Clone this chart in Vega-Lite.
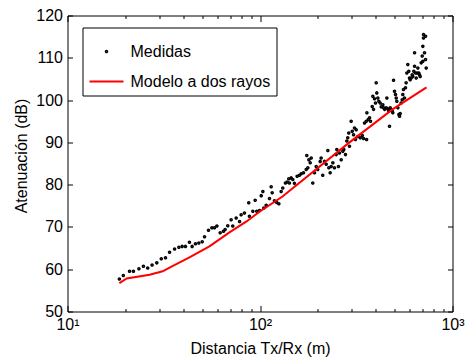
{
  "$schema": "https://vega.github.io/schema/vega-lite/v6.json",
  "width": 385,
  "height": 296,
  "autosize": {"type": "none"},
  "padding": {"left": 67.5, "top": 15.5, "right": 12.5, "bottom": 48.5},
  "background": "white",
  "config": {
    "font": "Liberation Sans",
    "view": {"stroke": "black", "strokeWidth": 1},
    "axis": {
      "labelFont": "Liberation Sans", "labelFontSize": 16, "labelColor": "black",
      "titleFont": "Liberation Sans", "titleFontSize": 16, "titleFontWeight": "normal", "titleColor": "black",
      "tickColor": "black", "tickWidth": 1, "grid": false, "domain": false
    },
    "legend": {
      "orient": "none", "legendX": 15, "legendY": 12, "title": null,
      "strokeColor": "black", "fillColor": "white", "padding": 6, "rowPadding": 4,
      "labelFont": "Liberation Sans", "labelFontSize": 16, "labelColor": "black", "labelOffset": 6,
      "labelLimit": 0, "symbolSize": 1156, "symbolStrokeWidth": 2, "cornerRadius": 0
    }
  },
  "datasets": {
    "medidas": [
      {"d":18.6,"db":57.7},{"d":19.5,"db":58.5},{"d":21.0,"db":59.5},{"d":22.0,"db":59.5},{"d":23.5,"db":60.1},
      {"d":24.8,"db":60.7},{"d":26.1,"db":60.3},{"d":27.5,"db":61.0},{"d":29.1,"db":61.5},{"d":30.7,"db":62.5},
      {"d":32.3,"db":62.7},{"d":33.9,"db":64.0},{"d":36.0,"db":64.8},{"d":37.9,"db":65.2},{"d":39.4,"db":65.4},
      {"d":41.0,"db":65.4},{"d":43.0,"db":66.4},{"d":44.4,"db":65.4},{"d":46.2,"db":66.0},{"d":48.1,"db":66.2},
      {"d":50.1,"db":66.5},{"d":51.5,"db":67.7},{"d":54.0,"db":69.2},{"d":56.2,"db":69.8},{"d":58.0,"db":69.8},
      {"d":59.7,"db":70.2},{"d":62.1,"db":68.6},{"d":64.6,"db":69.0},{"d":65.9,"db":69.4},{"d":68.0,"db":70.3},
      {"d":70.8,"db":71.7},{"d":72.2,"db":70.2},{"d":75.2,"db":72.1},{"d":78.3,"db":71.3},{"d":79.8,"db":72.9},
      {"d":83.0,"db":73.3},{"d":87.4,"db":75.7},{"d":88.1,"db":72.5},{"d":91.8,"db":73.7},{"d":94.4,"db":76.3},
      {"d":96.2,"db":73.7},{"d":99.4,"db":73.9},
      {"d":101.5,"db":77.4},{"d":103.5,"db":78.4},{"d":104.7,"db":74.5},{"d":107.7,"db":75.1},{"d":112.0,"db":76.7},
      {"d":114.3,"db":79.5},{"d":115.7,"db":78.1},{"d":118.9,"db":76.2},{"d":122.2,"db":75.8},{"d":125.3,"db":75.5},
      {"d":128.8,"db":78.4},{"d":131.3,"db":79.2},{"d":135.6,"db":80.4},{"d":138.4,"db":80.6},{"d":141.1,"db":81.4},
      {"d":142.2,"db":80.4},{"d":145.2,"db":81.6},{"d":148.0,"db":81.2},{"d":151.0,"db":80.3},{"d":155.9,"db":82.0},
      {"d":160.3,"db":82.2},
      {"d":163.7,"db":82.6},{"d":168.2,"db":82.8},{"d":173.8,"db":83.6},{"d":177.2,"db":84.0},{"d":175.0,"db":86.9},
      {"d":179.4,"db":85.9},{"d":182.3,"db":85.2},{"d":184.5,"db":86.3},{"d":188.0,"db":80.4},{"d":191.9,"db":82.8},
      {"d":195.9,"db":84.3},{"d":199.5,"db":83.6},{"d":205.4,"db":85.5},{"d":207.8,"db":86.3},{"d":211.8,"db":82.2},
      {"d":216.3,"db":85.5},{"d":220.8,"db":84.8},{"d":225.1,"db":88.1},{"d":227.8,"db":84.0},{"d":231.5,"db":82.8},
      {"d":234.3,"db":84.3},{"d":239.0,"db":85.2},{"d":243.7,"db":84.0},{"d":248.7,"db":87.1},{"d":250.6,"db":88.3},
      {"d":255.6,"db":84.3},{"d":258.8,"db":87.5},{"d":264.1,"db":85.9},{"d":269.3,"db":87.9},{"d":272.5,"db":88.3},
      {"d":278.0,"db":87.1},{"d":282.5,"db":90.3},{"d":285.6,"db":91.1},{"d":289.1,"db":92.2},{"d":291.7,"db":89.1},
      {"d":297.6,"db":95.0},{"d":301.3,"db":92.6},{"d":306.2,"db":91.8},{"d":309.7,"db":93.4},{"d":313.4,"db":90.7},
      {"d":316.0,"db":93.0},{"d":322.4,"db":91.4},{"d":331.7,"db":91.1},{"d":340.0,"db":91.6},{"d":345.0,"db":90.9},
      {"d":349.2,"db":94.6},{"d":356.5,"db":95.0},{"d":358.0,"db":90.7},{"d":359.1,"db":97.0},{"d":364.9,"db":95.4},
      {"d":370.8,"db":95.8},{"d":375.1,"db":95.0},{"d":382.8,"db":98.5},{"d":385.6,"db":100.9},{"d":389.0,"db":97.8},
      {"d":393.4,"db":100.3},{"d":398.1,"db":99.3},{"d":401.5,"db":104.1},{"d":404.4,"db":101.7},{"d":409.4,"db":100.5},
      {"d":414.3,"db":99.7},
      {"d":421.0,"db":99.3},{"d":426.3,"db":98.4},{"d":434.6,"db":98.9},{"d":438.3,"db":98.2},{"d":443.8,"db":97.8},
      {"d":452.8,"db":98.2},{"d":456.1,"db":100.5},{"d":461.6,"db":97.9},{"d":467.0,"db":97.4},{"d":470.6,"db":93.8},
      {"d":474.5,"db":98.2},{"d":480.3,"db":97.8},{"d":486.3,"db":97.4},{"d":489.6,"db":97.0},{"d":494.0,"db":104.7},
      {"d":499.7,"db":102.1},{"d":505.8,"db":101.3},{"d":510.1,"db":100.5},{"d":513.7,"db":99.7},{"d":520.1,"db":98.2},
      {"d":526.3,"db":96.6},{"d":530.9,"db":96.2},{"d":534.9,"db":96.8},{"d":541.1,"db":99.3},{"d":547.9,"db":100.1},
      {"d":551.8,"db":101.3},{"d":556.3,"db":102.5},{"d":563.0,"db":100.5},{"d":569.8,"db":102.9},{"d":574.3,"db":104.1},
      {"d":579.3,"db":106.4},{"d":585.8,"db":108.4},{"d":592.7,"db":106.8},{"d":597.9,"db":105.2},{"d":602.6,"db":104.8},
      {"d":609.7,"db":105.2},{"d":617.5,"db":106.0},{"d":621.9,"db":105.6},{"d":629.5,"db":106.8},{"d":635.3,"db":108.0},
      {"d":635.3,"db":111.2},{"d":642.7,"db":106.4},{"d":647.8,"db":105.2},{"d":655.6,"db":106.4},{"d":660.7,"db":107.6},
      {"d":668.3,"db":106.4},{"d":674.0,"db":106.0},{"d":679.6,"db":105.6},{"d":687.7,"db":108.8},{"d":696.1,"db":110.4},
      {"d":701.3,"db":109.2},{"d":701.3,"db":112.7},{"d":706.9,"db":114.7},{"d":706.9,"db":115.5},{"d":715.6,"db":111.2},
      {"d":724.4,"db":109.6},{"d":724.4,"db":115.1},{"d":730.1,"db":107.6}
    ],
    "modelo": [
      {"d":18.6,"db":56.7},{"d":20.3,"db":57.8},{"d":26.7,"db":58.7},{"d":31.2,"db":59.5},{"d":33.9,"db":60.4},
      {"d":43.0,"db":62.8},{"d":54.6,"db":65.4},{"d":69.4,"db":68.7},{"d":85.1,"db":71.3},{"d":99.4,"db":73.6},
      {"d":130.9,"db":77.2},{"d":291.6,"db":90.0},{"d":487.8,"db":97.8},{"d":732.8,"db":103.0}
    ]
  },
  "layer": [
    {
      "data": {"name": "medidas"},
      "mark": {"type": "point", "filled": false, "size": 1156, "strokeWidth": 2, "opacity": 1},
      "encoding": {
        "x": {
          "field": "d", "type": "quantitative",
          "scale": {"type": "log", "domain": [10, 1000], "nice": false},
          "axis": {
            "orient": "bottom", "title": "Distancia Tx/Rx (m)",
            "values": [10, 100, 1000], "offset": -6, "tickSize": 6,
            "labelExpr": "datum.value == 10 ? '10¹' : datum.value == 100 ? '10²' : datum.value == 1000 ? '10³' : ''",
            "labelPadding": 4.5, "labelFlush": false, "labelOverlap": false,
            "titleY": 48, "titleBaseline": "alphabetic"
          }
        },
        "y": {
          "field": "db", "type": "quantitative",
          "scale": {"domain": [50, 120], "nice": false},
          "axis": {
            "orient": "left", "title": "Atenuación (dB)",
            "values": [50,60,70,80,90,100,110,120], "offset": -5, "tickSize": 5, "labelPadding": 5,
            "titleX": -46.5, "titleY": 140, "titleBaseline": "alphabetic", "titleAlign": "center", "titleAngle": -90
          }
        },
        "color": {
          "datum": "Medidas", "type": "nominal",
          "scale": {"domain": ["Medidas", "Modelo a dos rayos"], "range": ["black", "red"]}
        },
        "shape": {
          "datum": "Medidas", "type": "nominal",
          "scale": {"domain": ["Medidas", "Modelo a dos rayos"], "range": ["M-0.045,0a0.045,0.045 0 1,0 0.09,0a0.045,0.045 0 1,0 -0.09,0Z", "stroke"]}
        }
      }
    },
    {
      "data": {"name": "modelo"},
      "mark": {"type": "line", "strokeWidth": 2, "color": "red"},
      "encoding": {
        "x": {
          "field": "d", "type": "quantitative",
          "axis": {"orient": "top", "title": null, "labels": false, "values": [10, 100, 1000], "offset": -6, "tickSize": 6}
        },
        "y": {
          "field": "db", "type": "quantitative",
          "axis": {"orient": "right", "title": null, "labels": false, "values": [50,60,70,80,90,100,110,120], "offset": -5, "tickSize": 5}
        }
      }
    },
    {
      "data": {"name": "modelo"},
      "mark": {"type": "point", "opacity": 0},
      "encoding": {
        "x": {
          "field": "d", "type": "quantitative",
          "axis": {"orient": "bottom", "title": null, "labels": false, "values": [20,30,40,50,60,70,80,90,200,300,400,500,600,700,800,900], "offset": -3, "tickSize": 3}
        },
        "y": {"field": "db", "type": "quantitative", "axis": null}
      }
    },
    {
      "data": {"name": "modelo"},
      "mark": {"type": "point", "opacity": 0},
      "encoding": {
        "x": {
          "field": "d", "type": "quantitative",
          "axis": {"orient": "top", "title": null, "labels": false, "values": [20,30,40,50,60,70,80,90,200,300,400,500,600,700,800,900], "offset": -3, "tickSize": 3}
        },
        "y": {"field": "db", "type": "quantitative", "axis": null}
      }
    }
  ],
  "resolve": {"axis": {"x": "independent", "y": "independent"}}
}
